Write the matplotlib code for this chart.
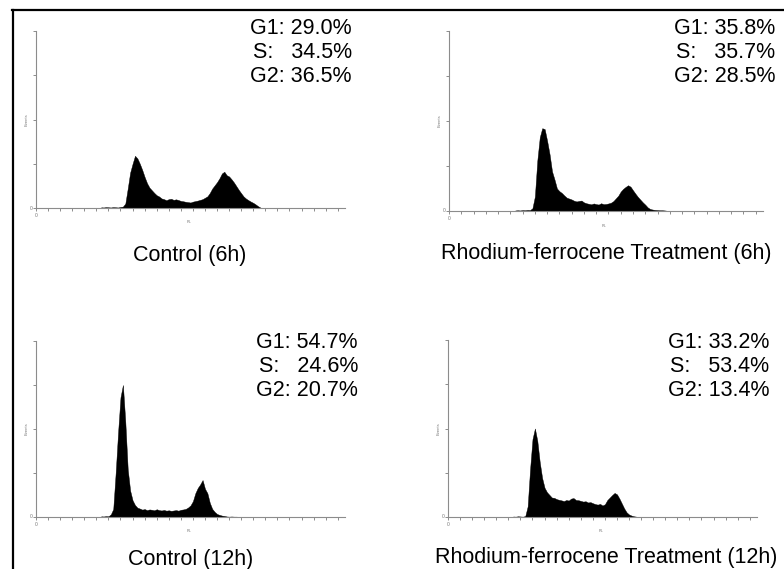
import numpy as np
import matplotlib.pyplot as plt
from matplotlib.lines import Line2D

plt.rcParams['font.family'] = ['Liberation Sans', 'DejaVu Sans']

# DNA content histograms, counts as % of the Events axis, one value every 2 channels from 54
chan_start = 54
chan_step = 2

ctrl_6h = [0.4, 0.3, 0.5, 0.4, 0.3, 0.5, 0.4, 0.3, 0.6, 0.8, 2.5, 11, 20, 25, 29.5, 28,
           25, 21.5, 17.5, 14, 11.5, 10, 8.5, 7.2, 6.5, 5.4, 5.0, 4.4, 5.0, 5.2, 4.6, 4.9,
           4.5, 4.0, 3.8, 3.5, 3.3, 3.1, 3.6, 3.9, 4.2, 4.6, 5.0, 5.8, 6.6, 8.5, 11, 12.8,
           14.6, 16.8, 19.5, 20.5, 18.5, 17.8, 16.2, 14.4, 12.3, 10.2, 8.3, 6.5, 5.3, 4.4,
           3.6, 2.9, 2.0, 1.0, 0.2]

rh_6h = [0.3, 0.4, 0.3, 0.5, 0.4, 0.6, 0.5, 1.5, 8, 28, 41, 46, 45.5, 39, 31.5, 22,
         17.5, 12.5, 11, 10, 8.6, 7.4, 6.9, 6.4, 5.7, 5.3, 5.6, 5.8, 4.8, 4.3, 4.0, 3.7,
         4.2, 3.8, 3.6, 4.3, 3.8, 3.9, 4.2, 4.6, 5.5, 7.0, 8.5, 10.8, 12.3, 13.4, 14.3,
         13.5, 11.5, 9.6, 7.8, 6.3, 4.8, 3.5, 2.0, 1.1, 0.8, 0.6, 0.5, 0.4, 0.4, 0.3, 0.1]

ctrl_12h = [0.4, 0.3, 0.5, 0.4, 1.5, 4.5, 25, 48, 68, 75, 54, 27, 15, 9.5, 6.8, 5.3,
            4.8, 4.2, 4.5, 3.9, 4.3, 4.1, 3.8, 4.4, 3.9, 3.7, 4.0, 3.6, 3.8, 3.5, 3.7,
            3.9, 3.6, 4.1, 4.3, 4.6, 5.4, 6.6, 9.0, 13.5, 16.5, 18.5, 21, 16.0, 13.5, 8.0,
            4.6, 2.9, 1.7, 1.2, 0.8, 0.6, 0.3, 0.2, 0.3, 0.2, 0.2, 0.1]

rh_12h = [0.3, 0.2, 0.4, 0.3, 0.2, 0.5, 6, 27, 44, 50, 43, 31, 22, 16.5, 14, 12.5,
          11, 10.8, 10.1, 9.7, 9.4, 9.0, 9.6, 9.3, 10.4, 10.7, 9.6, 9.5, 9.1, 8.7, 8.9,
          8.2, 8.4, 7.8, 7.3, 7.0, 7.4, 6.5, 7.2, 9.6, 11.0, 12.4, 13.6, 12.8, 10.4, 7.6,
          4.8, 2.6, 1.4, 0.8, 0.4, 0.2]

titles = ['Control (6h)', 'Rhodium-ferrocene Treatment (6h)',
          'Control (12h)', 'Rhodium-ferrocene Treatment (12h)']
phase_lines = [['G1: 29.0%', 'S:   34.5%', 'G2: 36.5%'],
               ['G1: 35.8%', 'S:   35.7%', 'G2: 28.5%'],
               ['G1: 54.7%', 'S:   24.6%', 'G2: 20.7%'],
               ['G1: 33.2%', 'S:   53.4%', 'G2: 13.4%']]
hists = [ctrl_6h, rh_6h, ctrl_12h, rh_12h]

W, H = 784, 569
fig = plt.figure(figsize=(W / 100, H / 100), dpi=100)

# panel boxes in pixels: left, top, right, bottom
boxes = [(36, 31, 345, 208), (449, 31, 763, 211),
         (36, 341, 345, 517), (448, 340, 757, 517)]
# stats block: right x, first line y ; title centre x, y
stat_pos = [(352, 29), (775, 29), (358, 342), (769, 342)]
title_pos = [(190, 255), (606, 254), (191, 560), (606, 558)]

axis_grey = '#8c8c8c'

def fx(px):
    return px / W

def fy(py):
    return 1 - py / H

for i in range(4):
    l, t, r, b = boxes[i]
    ax = fig.add_axes([fx(l), fy(b), (r - l) / W, (b - t) / H])
    counts = np.array(hists[i])
    chans = chan_start + chan_step * np.arange(len(counts))
    ax.fill_between(chans, counts, 0, color='black', lw=0.3)
    ax.set_xlim(0, 256)
    ax.set_ylim(0, 100)
    for s in ['top', 'right']:
        ax.spines[s].set_visible(False)
    for s in ['left', 'bottom']:
        ax.spines[s].set_color(axis_grey)
        ax.spines[s].set_linewidth(0.8)
    ax.set_xticks(np.arange(0, 251, 10))
    ax.set_yticks([0, 25, 50, 75, 100])
    ax.tick_params(colors=axis_grey, length=2.5, width=0.7, direction='out')
    ax.set_xticklabels([])
    ax.set_yticklabels([])
    ax.patch.set_alpha(0)
    # tiny axis annotations of the cytometer export
    ax.text(-0.012, 0, '0', transform=ax.transAxes, ha='right', va='center',
            fontsize=3.5, color='#777777')
    ax.text(0, -0.03, '0', transform=ax.transAxes, ha='center', va='top',
            fontsize=3.5, color='#777777')
    ax.text(-0.03, 0.5, 'Events', transform=ax.transAxes, ha='center', va='center',
            rotation=90, fontsize=3, color='#777777')
    ax.text(0.495, -0.07, 'FL', transform=ax.transAxes, ha='center', va='top',
            fontsize=3, color='#777777')

    xr, y0 = stat_pos[i]
    for k in range(3):
        fig.text(fx(xr), fy(y0 + 24 * k), phase_lines[i][k], ha='right', va='center',
                 fontsize=15.5)
    tx, ty = title_pos[i]
    fig.text(fx(tx), fy(ty), titles[i], ha='center', va='center', fontsize=15.5)

# frame lines on the left and top edge
fig.add_artist(Line2D([fx(13), fx(13)], [fy(10), 0], color='black', lw=1.6))
fig.add_artist(Line2D([fx(12), 1], [fy(10), fy(10)], color='black', lw=1.6))

fig.savefig('out.png', dpi=100)
